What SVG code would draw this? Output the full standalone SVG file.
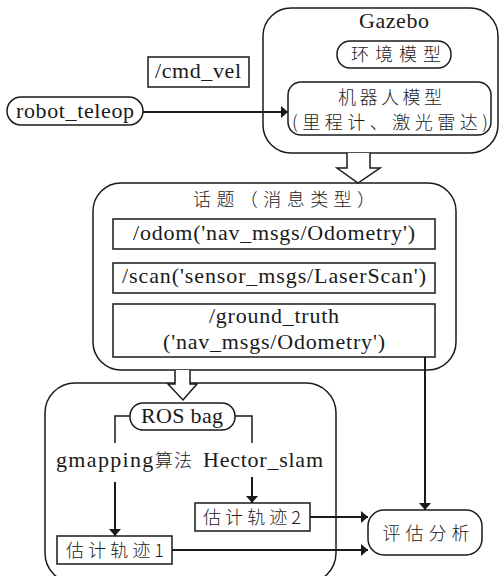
<svg xmlns="http://www.w3.org/2000/svg" width="500" height="576" viewBox="0 0 500 576">
<style>
.b{fill:#fff;stroke:#1a1a1a;stroke-width:1.5}
.c{fill:none;stroke:#1a1a1a;stroke-width:2}
.t{font-family:'Liberation Serif','Times New Roman',serif;font-size:22px;fill:#1a1a1a;text-anchor:middle}
.z{font-family:'Noto Sans CJK SC',sans-serif;font-size:18px;font-weight:300;fill:#1a1a1a;text-anchor:middle}
.h{fill:#fff;stroke:#1a1a1a;stroke-width:1.5;stroke-linejoin:miter}
</style>
<defs>
<marker id="a2" viewBox="0 0 10 10" refX="10" refY="5" markerWidth="7" markerHeight="12" markerUnits="userSpaceOnUse" orient="auto" preserveAspectRatio="none">
<path d="M0,0L10,5L0,10z" fill="#1a1a1a"/>
</marker>
</defs>
<g id="gazebo">
<rect class="b" x="263" y="8" width="235" height="145" rx="28"/>
<text class="t" x="394" y="28" textLength="70">Gazebo</text>
</g>
<g id="env">
<rect class="b" x="337" y="41" width="114" height="27" rx="13"/>
<text class="z" x="396" y="61" textLength="90">环境模型</text>
</g>
<g id="robot">
<rect class="b" x="288" y="82" width="203" height="53" rx="13"/>
<text class="z" x="390" y="104" textLength="104">机器人模型</text>
<text class="z" x="390" y="129" textLength="196">(里程计、激光雷达)</text>
</g>
<g id="cmdvel">
<rect class="b" x="148" y="57" width="101" height="30"/>
<text class="t" x="198" y="78" textLength="86">/cmd_vel</text>
</g>
<g id="teleop">
<rect class="b" x="7" y="97" width="136" height="28" rx="14"/>
<text class="t" x="75" y="118" textLength="118">robot_teleop</text>
</g>
<g id="topics">
<rect class="b" x="93" y="183" width="363" height="187" rx="28"/>
<text class="z" x="284" y="206" textLength="182">话题（消息类型）</text>
</g>
<g id="odom">
<rect class="b" x="113" y="219" width="322" height="30"/>
<text class="t" x="274" y="240" textLength="282">/odom('nav_msgs/Odometry')</text>
</g>
<g id="scan">
<rect class="b" x="113" y="263" width="322" height="30"/>
<text class="t" x="274" y="283" textLength="304">/scan('sensor_msgs/LaserScan')</text>
</g>
<g id="gt">
<rect class="b" x="113" y="304" width="322" height="53"/>
<text class="t" x="274" y="323" textLength="130">/ground_truth</text>
<text class="t" x="274" y="349" textLength="222">('nav_msgs/Odometry')</text>
</g>
<g id="bagbox">
<rect class="b" x="45" y="383" width="291" height="200" rx="30"/>
</g>
<g id="rosbag">
<rect class="b" x="130" y="403" width="105" height="27" rx="13"/>
<text class="t" x="182" y="423" textLength="82">ROS bag</text>
</g>
<g id="gmapping">
<text class="t" x="124" y="467" textLength="136">gmapping<tspan class="z" style="text-anchor:start">算法</tspan></text>
</g>
<g id="hector">
<text class="t" x="263" y="467" textLength="120">Hector_slam</text>
</g>
<g id="traj2">
<rect class="b" x="195" y="503" width="115" height="28"/>
<text class="z" x="252" y="524" textLength="98">估计轨迹2</text>
</g>
<g id="traj1">
<rect class="b" x="57" y="536" width="115" height="28"/>
<text class="z" x="115" y="557" textLength="98">估计轨迹1</text>
</g>
<g id="eval">
<rect class="b" x="368" y="510" width="114" height="45" rx="16"/>
<text class="z" x="426" y="540" textLength="87">评估分析</text>
</g>
<g id="connectors">
<path class="h" d="M347,153V168H337L358,183L380,168H370V153"/>
<path class="h" d="M175,370V384H168L183,400L197,384H190V370"/>
<path class="c" d="M143,112H288" marker-end="url(#a2)"/>
<path class="c" d="M130,416H115V443M235,416H252V443" style="stroke-width:1.5"/>
<path class="c" d="M115,482V536" marker-end="url(#a2)"/>
<path class="c" d="M252,477V503" marker-end="url(#a2)"/>
<path class="c" d="M425,357V510" marker-end="url(#a2)"/>
<path class="c" d="M310,517H368" marker-end="url(#a2)"/>
<path class="c" d="M172,550H368" marker-end="url(#a2)"/>
</g>
</svg>
